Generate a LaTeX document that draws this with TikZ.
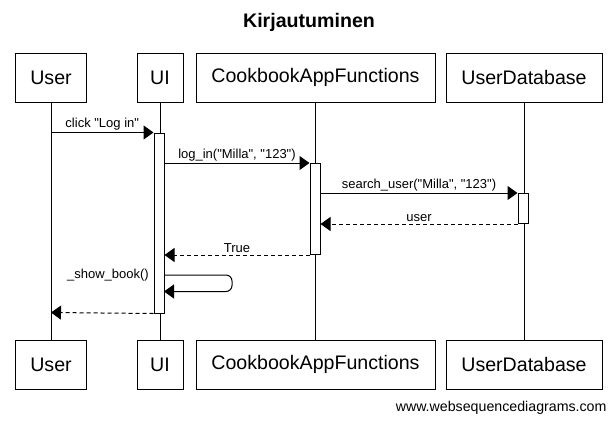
\documentclass[tikz,border=0pt]{standalone}
\usepackage{fontspec}
\setmainfont{Liberation Sans}[Ligatures=TeXOff]
\usetikzlibrary{arrows.meta}
\newcommand\dq{\symbol{34}}
\begin{document}
\begin{tikzpicture}[x=1pt,y=-1pt,line width=1pt,
  actor/.style={draw,minimum height=49pt,inner sep=0pt,font=\fontsize{19.6}{22}\selectfont},
  act/.style={draw,fill=white,minimum width=10pt,inner sep=0pt},
  msg/.style={-{Triangle[length=10pt,width=14pt]}},
  ret/.style={msg,dash pattern=on 4pt off 3pt},
  lbl/.style={font=\fontsize{13}{15}\selectfont,inner sep=1.5pt,anchor=south}]
\useasboundingbox (0,0) rectangle (616,424);
\node[font=\bfseries\fontsize{19.6}{22}\selectfont] (title) at (309,22) {Kirjautuminen};
% top actors
\node[actor,minimum width=71pt] (uT) at (51,77.5) {User};
\node[actor,minimum width=46pt] (iT) at (160,77.5) {UI};
\node[actor,minimum width=239pt] (cT) at (315.5,77.5) {CookbookAppFunctions};
\node[actor,minimum width=156pt] (dT) at (524,77.5) {UserDatabase};
% bottom actors
\node[actor,minimum width=71pt] (uB) at (51,364.5) {User};
\node[actor,minimum width=46pt] (iB) at (160,364.5) {UI};
\node[actor,minimum width=239pt] (cB) at (315.5,364.5) {CookbookAppFunctions};
\node[actor,minimum width=156pt] (dB) at (524,364.5) {UserDatabase};
% lifelines
\draw (uT.south) -- (uB.north);
\draw (iT.south) -- (iB.north);
\draw (cT.south) -- (cB.north);
\draw (dT.south) -- (dB.north);
% activations
\node[act,minimum height=180pt,anchor=north] (iA) at (159,132.5) {};
\node[act,minimum height=91pt,anchor=north] (cA) at (315,163) {};
\node[act,minimum height=30pt,anchor=north] (dA) at (523,193) {};
% messages
\coordinate (m1s) at (51,132.5);
\draw[msg] (m1s) -- (iA.north west) node[lbl,midway] {click \dq Log in\dq};
\draw[msg] (iA.east |- cA.north) -- (cA.north west) node[lbl,midway] {log\_in(\dq Milla\dq, \dq 123\dq)};
\draw[msg] (cA.east |- dA.north) -- (dA.north west) node[lbl,midway] {search\_user(\dq Milla\dq, \dq 123\dq)};
\draw[ret] (dA.south west) -- (cA.east |- dA.south) node[lbl,midway] {user};
\draw[ret] (cA.south west) -- (iA.east |- cA.south) node[lbl,midway] {True};
\coordinate (s1) at (164,275);
\coordinate (s2) at (164,291.5);
\draw[msg,rounded corners=6pt] (s1) -- (232,275) -- (232,291.5) -- (s2);
\node[font=\fontsize{13}{15}\selectfont,inner sep=1pt] (sb) at (108,275) {\_show\_book()};
\coordinate (rEnd) at (51,312.5);
\draw[ret] (iA.south west) -- (rEnd);
\node[font=\fontsize{14.2}{16}\selectfont,anchor=east,inner sep=0pt] (wsd) at (607,408) {www.websequencediagrams.com};
\end{tikzpicture}
\end{document}
